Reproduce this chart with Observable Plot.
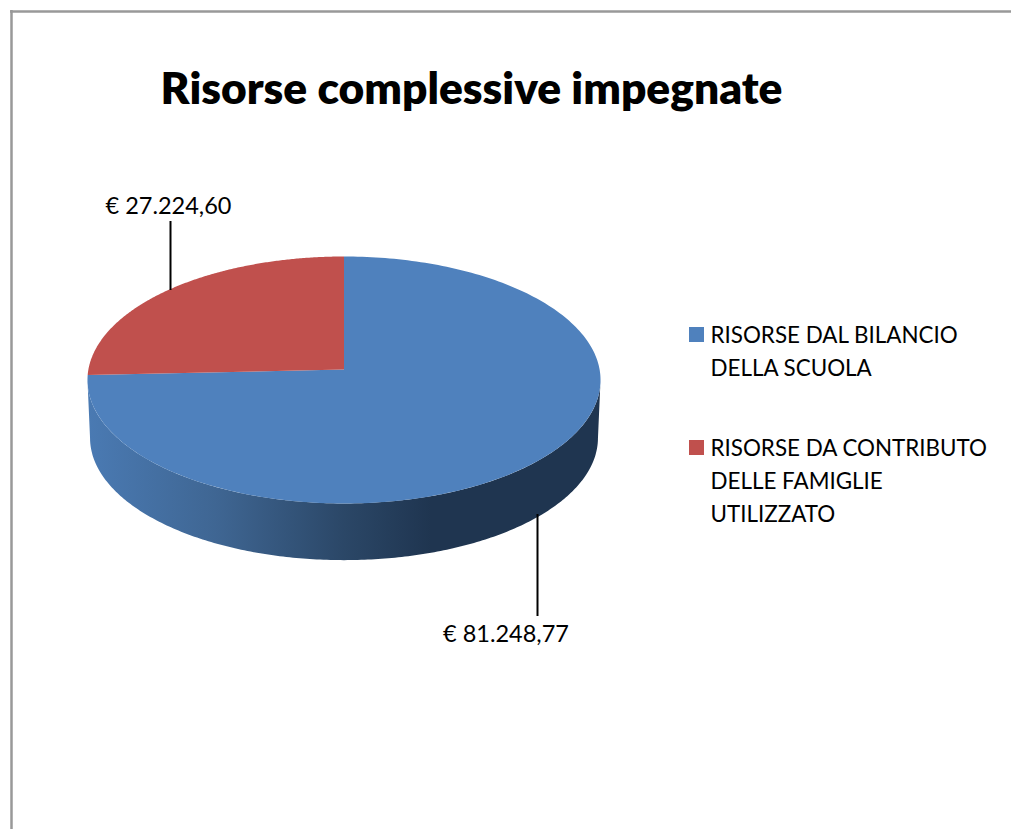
<!DOCTYPE html>
<html lang="it">
<head>
<meta charset="utf-8">
<script src="https://cdn.jsdelivr.net/npm/d3@7"></script>
<script src="https://cdn.jsdelivr.net/npm/@observablehq/plot@0.6"></script>
<style>
html,body{margin:0;padding:0;background:#fff;overflow:hidden}
svg{display:block}
</style>
</head>
<body>
<div id="chart"></div>
<script>
const titleText = "Risorse complessive impegnate";
const categories = ["RISORSE DAL BILANCIO DELLA SCUOLA", "RISORSE DA CONTRIBUTO DELLE FAMIGLIE UTILIZZATO"];
const values = [81248.77, 27224.60];
const valueLabels = ["€ 81.248,77", "€ 27.224,60"];
const legendLines = [["RISORSE DAL BILANCIO", "DELLA SCUOLA"], ["RISORSE DA CONTRIBUTO", "DELLE FAMIGLIE", "UTILIZZATO"]];
const colors = ["#4F81BD", "#C0504D"];
const font = "Lato, 'Open Sans', sans-serif";

// Tilted-disc projection of a pie angle (degrees clockwise from 12 o'clock)
const disc = {cx: 343.5, cy: 369, a: 255.6, b: 122.6, k: 0.0849, depth: 58, shrink: 0.99};
const project = (deg, shrink = 1, dy = 0) => {
  const t = deg * Math.PI / 180, ux = Math.sin(t), uy = -Math.cos(t), w = 1 - disc.k * uy;
  return {x: disc.cx + shrink * disc.a * ux / w, y: disc.cy + dy + shrink * disc.b * uy / w};
};
const arc = (from, to, shrink, dy) => d3.range(0, 241).map(i => project(from + (to - from) * i / 240, shrink, dy));

// Slices: the first starts at 12 o'clock and runs clockwise
const total = d3.sum(values);
const tiltNudge = 2.2; // the perspective lifts the seam's far end slightly
const sweep0 = 360 * values[0] / total - tiltNudge;
const slices = [
  [{x: disc.cx, y: disc.cy}, ...arc(0, sweep0, 1, 0)],
  [{x: disc.cx, y: disc.cy}, ...arc(sweep0, 360, 1, 0)]
];
// The wall runs between the silhouette's two side extremes
const sideAngle = 90 + Math.asin(disc.k) * 180 / Math.PI;
const wall = [...arc(sideAngle, 360 - sideAngle, 1, 0), ...arc(360 - sideAngle, sideAngle, disc.shrink, disc.depth)];

const wallStops = [[0, "#4a7ab3"], [0.25, "#3f6693"], [0.5, "#2b4767"], [0.67, "#1f3550"], [1, "#1f3550"]];
const gradient = () => {
  const defs = d3.create("svg:defs");
  const g = defs.append("linearGradient").attr("id", "wallShade").attr("x1", 0).attr("x2", 1).attr("y1", 0).attr("y2", 0);
  wallStops.forEach(([o, c]) => g.append("stop").attr("offset", o).attr("stop-color", c));
  return defs.node();
};

const leaders = [
  {x: 537, y1: 514, y2: 616},
  {x: 170, y1: 221, y2: 290}
];
const labelPos = [{x: 505.5, y: 634}, {x: 168, y: 206}];
const legendRows = [335, 448];
const lineStep = 33;
const legendText = legendLines.flatMap((lines, i) => lines.map((t, j) => ({t, y: legendRows[i] + j * lineStep})));

const plot = Plot.plot({
  width: 1011, height: 829,
  margin: 0,
  x: {domain: [0, 1011], range: [0, 1011], axis: null},
  y: {domain: [0, 829], range: [0, 829], axis: null},
  marks: [
    gradient,
    Plot.ruleX([11], {y1: 10, y2: 829, stroke: "#999", strokeWidth: 2.5}),
    Plot.ruleY([11], {x1: 10, x2: 1011, stroke: "#999", strokeWidth: 2.5}),
    Plot.line(wall, {x: "x", y: "y", fill: "url(#wallShade)", stroke: "none"}),
    Plot.line(slices[0], {x: "x", y: "y", fill: colors[0], stroke: "none"}),
    Plot.line(slices[1], {x: "x", y: "y", fill: colors[1], stroke: "none"}),
    Plot.ruleX(leaders, {x: "x", y1: "y1", y2: "y2", stroke: "#000", strokeWidth: 2}),
    Plot.text(valueLabels, {
      x: (d, i) => labelPos[i].x, y: (d, i) => labelPos[i].y, text: d => d,
      fontFamily: font, fontSize: 23.5, fill: "#000"
    }),
    Plot.text([titleText], {x: 471, y: 89, text: d => d, fontFamily: font, fontWeight: 800, fontSize: 44.3, fill: "#000"}),
    Plot.rect(categories, {
      x1: 689, x2: 704,
      y1: (d, i) => legendRows[i] - 8, y2: (d, i) => legendRows[i] + 7,
      fill: colors
    }),
    Plot.text(legendText, {
      x: 710, y: "y", text: "t", textAnchor: "start",
      fontFamily: font, fontSize: 22.4, fill: "#000"
    })
  ]
});
document.getElementById("chart").appendChild(plot);
</script>
</body>
</html>
